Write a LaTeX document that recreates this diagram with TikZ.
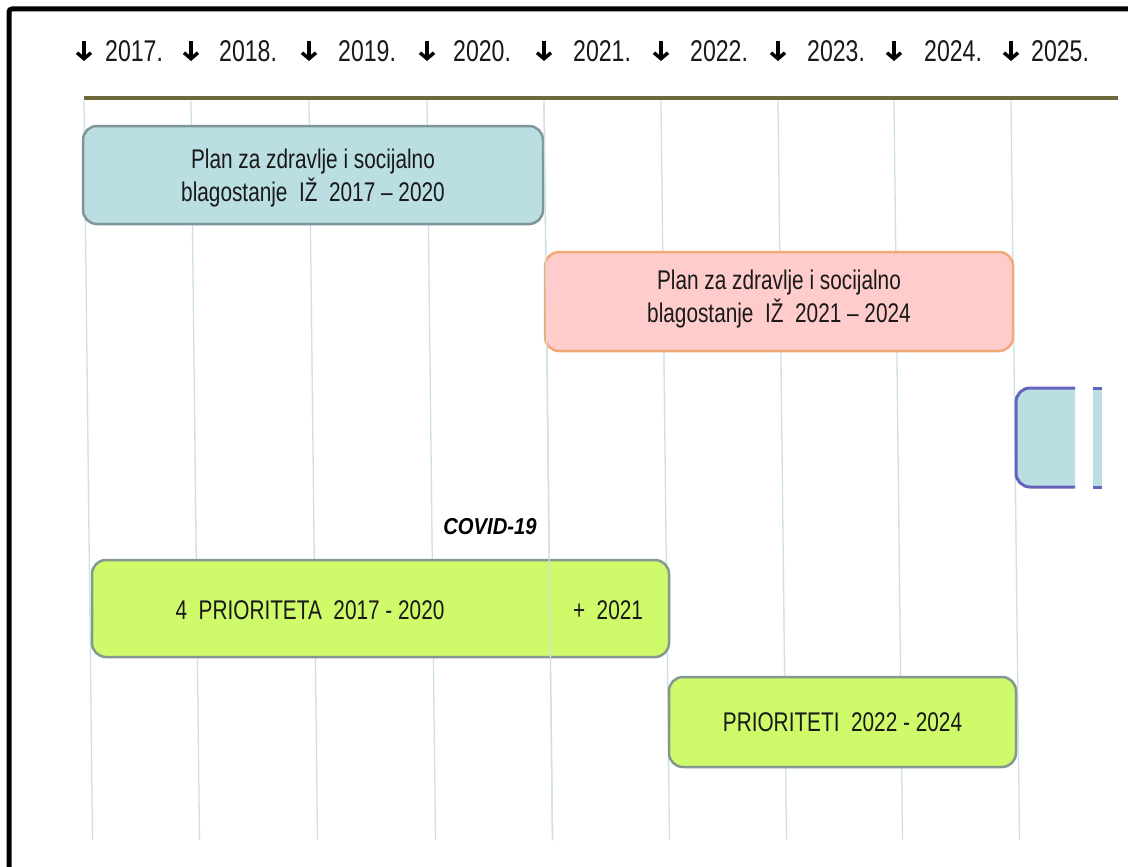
\documentclass[tikz,border=0pt]{standalone}
\usepackage{fontspec}
\setmainfont[FakeStretch=0.77]{Liberation Sans}
\newfontfamily\covidfont[FakeStretch=0.88]{Liberation Sans}
\usetikzlibrary{arrows.meta}

\definecolor{gridblue}{RGB}{205,224,232}
\definecolor{barolive}{RGB}{110,104,60}
\definecolor{planblue}{RGB}{186,222,226}
\definecolor{planblueedge}{RGB}{125,150,155}
\definecolor{planpink}{RGB}{255,204,204}
\definecolor{planpinkedge}{RGB}{244,168,118}
\definecolor{prioagreen}{RGB}{207,251,106}
\definecolor{prioedge}{RGB}{132,152,144}
\definecolor{nextedge}{RGB}{100,100,190}

\tikzset{
  gridline/.style={draw=gridblue, line width=1.3pt},
  yearlbl/.style={anchor=base west, inner sep=0pt, text=black!90,
    font=\fontsize{30}{32}\selectfont},
  yeararrow/.style={line width=3.4pt,
    -{Straight Barb[length=6pt, width=14pt, line width=3.4pt]}},
  planbox/.style={rectangle, rounded corners=14pt, line width=2.5pt,
    align=center, inner sep=0pt, text=black!90,
    font=\fontsize{27}{32}\selectfont},
  boxtext/.style={inner sep=0pt, text=black!90, font=\fontsize{27}{33}\selectfont}
}

\begin{document}
\begin{tikzpicture}[x=1pt,y=-1pt]
    \useasboundingbox[fill=white] (0,0) rectangle (1128,867);

    % frame
    \draw[line width=5pt, rounded corners=3pt] (9,867) -- (9,9) -- (1128,9);

    % year grid
    \foreach \x in {84,191,309,427,544,661,778,894,1011}
        \draw[gridline] (\x,101) -- ++(8.5,739);

    \foreach \x in {84,191,309,427,544,661,778,894,1011}
        \draw[yeararrow] (\x,41) -- (\x,61);

    \foreach \x/\yr in {105/2017, 219/2018, 338/2019, 453/2020, 573/2021,
                        690/2022, 807/2023, 924/2024, 1031/2025}
        \node[yearlbl] (y\yr) at (\x,62) {\yr.};

    \draw[barolive, line width=4pt] (84,98) -- (1118,98);

    % plans
    \node[planbox, fill=planblue, draw=planblueedge,
          minimum width=460pt, minimum height=98pt] (plan1) at (313,175) {};
    \node[boxtext, align=center] (plan1txt) at (plan1.center) [yshift=-3pt]
          {Plan za zdravlje i socijalno\\blagostanje\ \ IŽ\ \ 2017 – 2020};
    \node[planbox, fill=planpink, draw=planpinkedge,
          minimum width=468pt, minimum height=99pt] (plan2) at (779,301.5) {};
    \node[boxtext, align=center] (plan2txt) at (plan2.center) [yshift=2pt]
          {Plan za zdravlje i socijalno\\blagostanje\ \ IŽ\ \ 2021 – 2024};

    % next plan, cut off
    \fill[planblue] (1075,388) [rounded corners=14pt] -- (1016,388) -- (1016,487)
        [sharp corners] -- (1075,487) -- cycle;
    \draw[nextedge, line width=3pt] (1075,388) [rounded corners=14pt] -- (1016,388)
        -- (1016,487) -- (1075,487);
    \fill[planblue] (1093,388) rectangle (1102,487);
    \draw[nextedge, line width=3pt] (1093,388) -- (1102,388);
    \draw[nextedge, line width=3pt] (1093,487) -- (1102,487);

    % priorities
    \node[inner sep=0pt, font=\covidfont\bfseries\itshape\fontsize{23}{25}\selectfont]
        (covid) at (490,527) {COVID-19};

    \node[planbox, fill=prioagreen, draw=prioedge,
          minimum width=577pt, minimum height=97pt] (prio1) at (380.5,608.5) {};
    \draw[gridline] (544,101) -- ++(8.5,739);
    \node[boxtext] (prio1txt) at (310,610) {4\ \ PRIORITETA\ \ 2017 - 2020};
    \node[boxtext] (plus21) at (608,610) {+\ \ 2021};

    \node[planbox, fill=prioagreen, draw=prioedge,
          minimum width=347pt, minimum height=90pt] (prio2) at (842.5,722)
          {PRIORITETI\ \ 2022 - 2024};

\end{tikzpicture}
\end{document}
